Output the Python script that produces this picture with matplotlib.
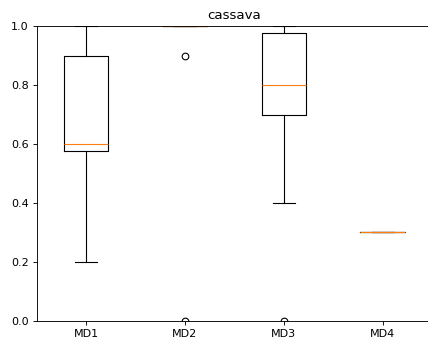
import matplotlib
matplotlib.use("Agg")
import matplotlib.pyplot as plt

# per-model scores on cassava
MODELS = ["MD1", "MD2", "MD3", "MD4"]
MD1 = [0.2, 0.55, 0.6, 0.6, 0.8, 1.0, 1.0]
MD2 = [0.0, 0.9, 1.0, 1.0, 1.0, 1.0, 1.0, 1.0, 1.0, 1.0]
MD3 = [0.0, 0.4, 0.7, 0.75, 0.8, 0.9, 0.975, 1.0, 1.0]
MD4 = [0.3, 0.3, 0.3, 0.3, 0.3]

DPI = 80
fig = plt.figure(figsize=(428 / DPI, 341 / DPI), dpi=DPI)
ax = fig.add_axes([0.0855, 0.0587, 0.924, 0.865])
ax.boxplot([MD1, MD2, MD3, MD4], labels=MODELS)
ax.set_ylim(0, 1.0)
ax.set_title("cassava")
fig.savefig("out.png", dpi=DPI)
